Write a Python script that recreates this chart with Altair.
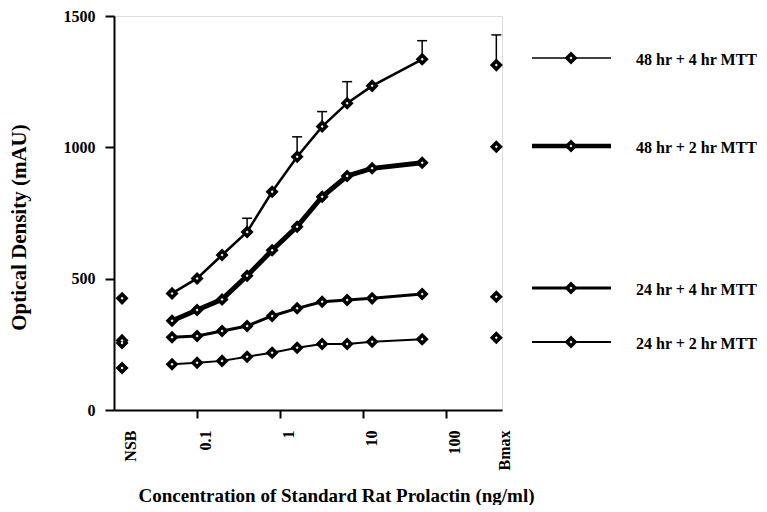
import altair as alt
import pandas as pd

# ---------------- data ----------------
SERIES = ["48 hr + 4 hr MTT", "48 hr + 2 hr MTT", "24 hr + 4 hr MTT", "24 hr + 2 hr MTT"]
CONC = [0.05, 0.1, 0.2, 0.4, 0.8, 1.6, 3.2, 6.4, 12.8, 51.2]
OD_48_4 = [444, 501, 590, 678, 831, 964, 1079, 1168, 1234, 1335]
OD_48_2 = [340, 381, 421, 511, 608, 698, 812, 891, 920, 941]
OD_24_4 = [277, 282, 301, 320, 358, 387, 412, 419, 425, 442]
OD_24_2 = [174, 180, 187, 203, 218, 237, 251, 251, 260, 269]
NSB_OD = [425, 265, 255, 160]
BMAX_OD = [1313, 1002, 431, 275]
NSB_X = 0.0125   # plotting position of the NSB column
BMAX_X = 400     # plotting position of the Bmax column
ERR_X = [0.4, 1.6, 3.2, 6.4, 51.2, 400]
ERR_MEAN = [678, 964, 1079, 1168, 1335, 1313]
ERR_TOP = [730, 1040, 1136, 1250, 1406, 1428]
X_TICKS = [NSB_X, 0.1, 1, 10, 100, BMAX_X]
Y_TICKS = [0, 500, 1000, 1500]

# ---------------- style / layout ----------------
LINE_W = [2.5, 5, 3, 2]
LEG_W = [1.5, 4.5, 3, 2]
LEG_Y_PX = [42, 130, 272, 326]
FONT = "Liberation Serif"
W, H = 388, 394
OUTER, INNER = 170, 9   # diamond marker sizes (black body, white centre)

series_vals = [OD_48_4, OD_48_2, OD_24_4, OD_24_2]
curve_rows = []
for s, vals in zip(SERIES, series_vals):
    for c, v in zip(CONC, vals):
        curve_rows.append({"series": s, "conc": c, "od": v})
curve = pd.DataFrame(curve_rows)
ends = pd.DataFrame(
    [{"series": s, "conc": NSB_X, "od": v} for s, v in zip(SERIES, NSB_OD)]
    + [{"series": s, "conc": BMAX_X, "od": v} for s, v in zip(SERIES, BMAX_OD)]
)
points = pd.concat([curve, ends], ignore_index=True)
err = pd.DataFrame({"conc": ERR_X, "od": ERR_MEAN, "top": ERR_TOP})

x_scale = alt.Scale(type="log", domain=[0.01, 468], nice=False)
y_scale = alt.Scale(domain=[0, 1500], nice=False)

x_axis = alt.Axis(
    values=X_TICKS,
    labelExpr="datum.value < 0.05 ? 'NSB' : (datum.value > 200 ? 'Bmax' : format(datum.value, '~g'))",
    tickOpacity={"condition": {"test": "datum.value < 0.05 || datum.value > 200", "value": 0}, "value": 1},
    labelAngle=270, labelAlign="right", labelBaseline="top",
    tickSize=8, tickWidth=2, labelPadding=12,
    domainWidth=2, domainColor="black", tickColor="black",
    labelFont=FONT, labelFontSize=16, labelFontWeight="bold", labelColor="black",
    title="Concentration of Standard Rat Prolactin (ng/ml)",
    titleFont=FONT, titleFontSize=19, titleFontWeight="bold", titleColor="black",
    titlePadding=16, titleX=222, titleAlign="center",
    grid=False, labelFlush=False, labelOverlap=False,
)
y_axis = alt.Axis(
    values=Y_TICKS, format="d", tickSize=9, tickWidth=2, labelPadding=10,
    domainWidth=2, domainColor="black", tickColor="black",
    labelFont=FONT, labelFontSize=16, labelFontWeight="bold", labelColor="black",
    title="Optical Density (mAU)",
    titleFont=FONT, titleFontSize=21, titleFontWeight="bold", titleColor="black",
    titlePadding=34, titleY=211, titleAlign="center", grid=False, labelFlush=False,
)

X = alt.X("conc:Q", scale=x_scale, axis=x_axis)
Y = alt.Y("od:Q", scale=y_scale, axis=y_axis)
Xs = alt.X("conc:Q", scale=x_scale)
Ys = alt.Y("od:Q", scale=y_scale)

layers = []
for i, s in enumerate(SERIES):
    layers.append(
        alt.Chart(curve).transform_filter(alt.datum.series == s)
        .mark_line(color="black", strokeWidth=LINE_W[i])
        .encode(x=X if i == 0 else Xs, y=Y if i == 0 else Ys, order="conc:Q")
    )

stems = alt.Chart(err).mark_rule(color="black", strokeWidth=1.5).encode(
    x=Xs, y=Ys, y2="top:Q"
)
caps = alt.Chart(err).mark_tick(color="black", thickness=1.5, size=10, orient="horizontal", opacity=1).encode(
    x=Xs, y=alt.Y("top:Q", scale=y_scale)
)
pts_outer = alt.Chart(points).mark_point(
    shape="diamond", filled=True, color="black", size=OUTER, opacity=1, strokeWidth=0
).encode(x=Xs, y=Ys)
pts_inner = alt.Chart(points).mark_point(
    shape="diamond", filled=True, color="white", size=INNER, opacity=1, strokeWidth=0
).encode(x=Xs, y=Ys)
layers += [stems, caps, pts_outer, pts_inner]

for i, s in enumerate(SERIES):
    d = pd.DataFrame({"series": [s]})
    layers.append(alt.Chart(d).mark_rule(color="black", strokeWidth=LEG_W[i]).encode(
        x=alt.value(418), x2=alt.value(497), y=alt.value(LEG_Y_PX[i])))
    layers.append(alt.Chart(d).mark_point(
        shape="diamond", filled=True, color="black", size=OUTER, opacity=1, strokeWidth=0
    ).encode(x=alt.value(457), y=alt.value(LEG_Y_PX[i])))
    layers.append(alt.Chart(d).mark_point(
        shape="diamond", filled=True, color="white", size=INNER, opacity=1, strokeWidth=0
    ).encode(x=alt.value(457), y=alt.value(LEG_Y_PX[i])))
    layers.append(alt.Chart(d).mark_text(
        align="left", baseline="middle", dy=2, font=FONT, fontSize=16, fontWeight="bold", color="black"
    ).encode(x=alt.value(522), y=alt.value(LEG_Y_PX[i]), text="series:N"))

chart = alt.layer(*layers).properties(
    width=W, height=H,
    padding={"left": 0, "top": 0, "right": 0, "bottom": 0},
).configure_view(stroke="black", strokeWidth=2).configure(background="white")

chart.save("out.html", embed_options={"renderer": "svg", "actions": False})
